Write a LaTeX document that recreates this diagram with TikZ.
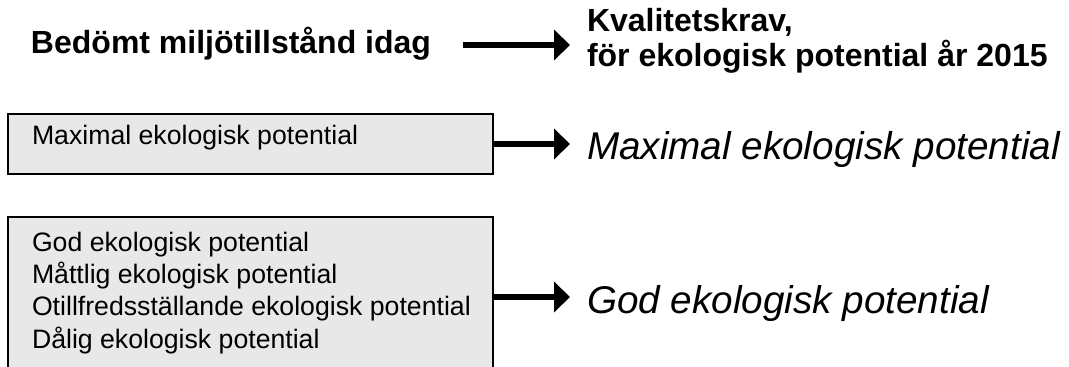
\documentclass[tikz,border=0pt]{standalone}
\usepackage{fontspec}
\setmainfont{Liberation Sans}
\usetikzlibrary{arrows.meta}
\begin{document}
\begin{tikzpicture}[x=0.75pt,y=-0.75pt,
  every node/.style={inner sep=0pt, outer sep=0pt},
  headtxt/.style={font=\fontsize{24}{28}\selectfont\bfseries, anchor=base west},
  boxtxt/.style={font=\fontsize{20}{24}\selectfont, anchor=base west},
  goaltxt/.style={font=\fontsize{29}{34}\selectfont\itshape, anchor=base west},
  levelbox/.style={draw=black, line width=1.2pt, fill=black!9, anchor=north west},
  bigarrow/.style={line width=5pt, -{Triangle[length=12pt,width=22.5pt]}}]
  \useasboundingbox (0,0) rectangle (1069,367);
  \clip (0,0) rectangle (1069,367);

  % column headings
  \node[headtxt] (title) at (31,54) {Bedömt miljötillstånd idag};
  \node[headtxt] (kv1) at (587,32) {Kvalitetskrav,};
  \node[headtxt] (kv2) at (587,67) {för ekologisk potential år 2015};

  % assessed status boxes
  \node[levelbox, minimum width=363.75pt, minimum height=45pt] (box1) at (8,114) {};
  \node[boxtxt] (max) at (32,145) {Maximal ekologisk potential};

  \node[levelbox, minimum width=363.75pt, minimum height=120pt] (box2) at (8,217) {};
  \node[boxtxt] (l1) at (32,251) {God ekologisk potential};
  \node[boxtxt] (l2) at (32,283) {Måttlig ekologisk potential};
  \node[boxtxt] (l3) at (32,315) {Otillfredsställande ekologisk potential};
  \node[boxtxt] (l4) at (32,348) {Dålig ekologisk potential};

  % resulting requirements
  \node[goaltxt] (gmax) at (587,159) {Maximal ekologisk potential};
  \node[goaltxt] (ggod) at (587,313) {God ekologisk potential};

  % arrows
  \coordinate (a1) at (463,45);
  \draw[bigarrow] (a1) -- (a1 -| kv2.west) [shorten >=12.75pt];
  \draw[bigarrow, shorten >=12.75pt] (box1.east) -- (box1.east -| gmax.west);
  \draw[bigarrow, shorten >=12.75pt] (box2.east) -- (box2.east -| ggod.west);
\end{tikzpicture}
\end{document}
